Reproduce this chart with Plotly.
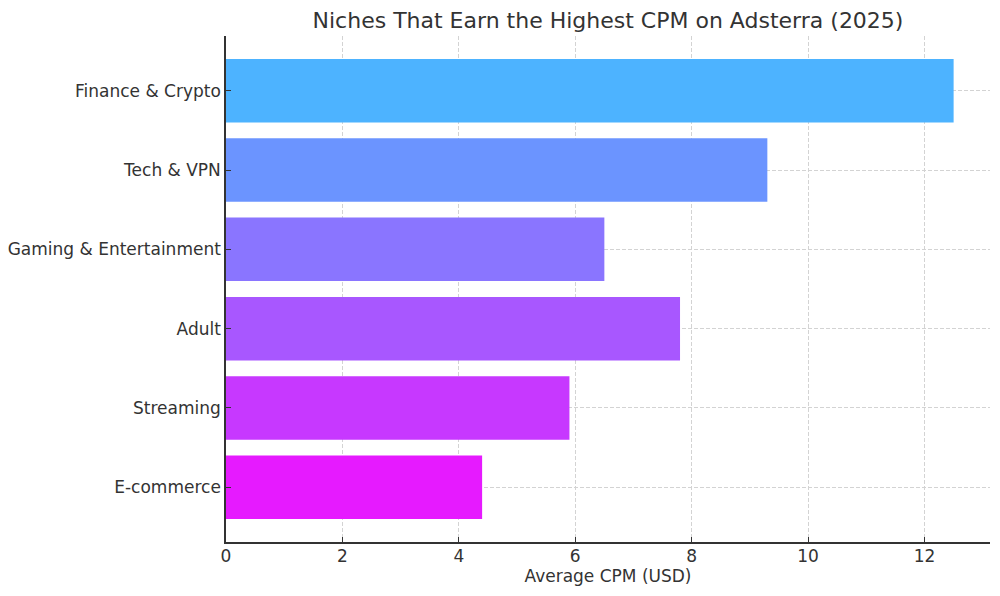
import plotly.graph_objects as go

niches = ["Finance & Crypto", "Tech & VPN", "Gaming & Entertainment",
          "Adult", "Streaming", "E-commerce"]
cpm = [12.5, 9.3, 6.5, 7.8, 5.9, 4.4]
bar_colors = ["#4db3ff", "#6b94ff", "#8a75ff", "#a857ff", "#c738ff", "#e61aff"]
x_ticks = [0, 2, 4, 6, 8, 10, 12]

font = "DejaVu Sans"
ink = "#333333"

fig = go.Figure()
fig.add_trace(go.Bar(
    x=cpm, y=niches, orientation="h",
    marker=dict(color=bar_colors, line=dict(width=0)),
    width=0.8,
))

# page body adds an 8px offset, margins compensate for it
fig.update_layout(
    width=1000, height=596,
    margin=dict(l=218, r=18, t=28, b=62),
    paper_bgcolor="white", plot_bgcolor="white",
    showlegend=False,
    font=dict(family=font, size=17, color=ink),
    title=dict(text="Niches That Earn the Highest CPM on Adsterra (2025)",
               x=0.6, xanchor="center", y=0.979, yanchor="middle",
               font=dict(family=font, size=22, color=ink)),
)

fig.update_xaxes(
    range=[0, 13.125], tickvals=x_ticks,
    showgrid=True, gridcolor="#d3d3d3", griddash="4px,2px", gridwidth=1,
    showline=True, linecolor=ink, linewidth=1.5,
    ticks="inside", ticklen=5, tickcolor=ink,
    ticklabelstandoff=-2, automargin=False,
    zeroline=False, layer="above traces",
    title=dict(text="Average CPM (USD)", standoff=4,
               font=dict(family=font, size=17, color=ink)),
)
fig.update_yaxes(
    range=[5.69, -0.69], type="category",
    showgrid=True, gridcolor="#d3d3d3", griddash="4px,2px", gridwidth=1,
    showline=True, linecolor=ink, linewidth=1.5,
    ticks="inside", ticklen=5, tickcolor=ink,
    automargin=False,
    zeroline=False, layer="above traces",
)

fig.write_html("out.html")
